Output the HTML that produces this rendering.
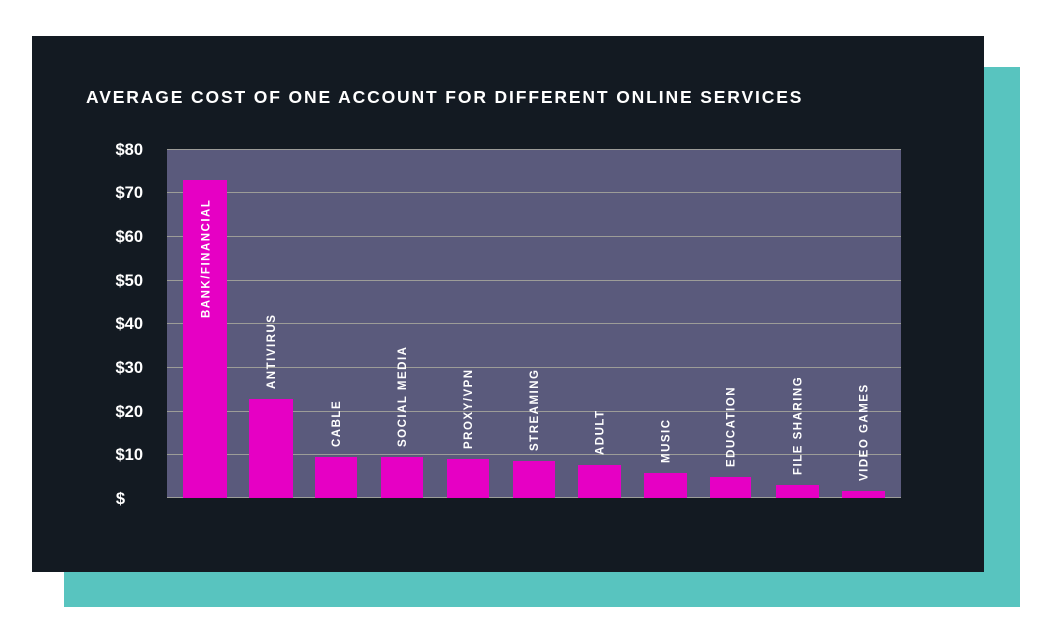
<!DOCTYPE html>
<html><head><style>html,body{margin:0;padding:0;background:#fff;}</style></head>
<body>
<svg width="1058" height="644" xmlns="http://www.w3.org/2000/svg" style="display:block">
<rect x="64" y="67" width="956" height="540" fill="#58c4bf"/>
<rect x="32" y="36" width="952" height="536" fill="#131a22"/>
<text x="86" y="103" fill="#fff" font-family="Liberation Sans, sans-serif" font-weight="bold" font-size="17.5" letter-spacing="1.86">AVERAGE COST OF ONE ACCOUNT FOR DIFFERENT ONLINE SERVICES</text>
<rect x="167" y="149" width="734" height="349" fill="#5a5a7c"/>
<g stroke="#9c9c98" stroke-width="1">
<line x1="167" x2="901" y1="149.5" y2="149.5"/>
<line x1="167" x2="901" y1="192.5" y2="192.5"/>
<line x1="167" x2="901" y1="236.5" y2="236.5"/>
<line x1="167" x2="901" y1="280.5" y2="280.5"/>
<line x1="167" x2="901" y1="323.5" y2="323.5"/>
<line x1="167" x2="901" y1="367.5" y2="367.5"/>
<line x1="167" x2="901" y1="411.5" y2="411.5"/>
<line x1="167" x2="901" y1="454.5" y2="454.5"/>
<line x1="167" x2="901" y1="497.5" y2="497.5"/>
</g>
<g fill="#fff" font-family="Liberation Sans, sans-serif" font-weight="bold" font-size="16.5" text-anchor="end">
<text x="143" y="155">$80</text><text x="143" y="198">$70</text><text x="143" y="242">$60</text>
<text x="143" y="286">$50</text><text x="143" y="329">$40</text><text x="143" y="373">$30</text>
<text x="143" y="417">$20</text><text x="143" y="460">$10</text><text x="125" y="504">$</text>
</g>
<g fill="#e600c4">
<rect x="183" y="180" width="44" height="318"/>
<rect x="249" y="399" width="44" height="99"/>
<rect x="315" y="457" width="42" height="41"/>
<rect x="381" y="457" width="42" height="41"/>
<rect x="447" y="459" width="42" height="39"/>
<rect x="513" y="461" width="42" height="37"/>
<rect x="578" y="465" width="43" height="33"/>
<rect x="644" y="473" width="43" height="25"/>
<rect x="710" y="477" width="41" height="21"/>
<rect x="776" y="485" width="43" height="13"/>
<rect x="842" y="491" width="43" height="7"/>
</g>
<g fill="#fff" font-family="Liberation Sans, sans-serif" font-weight="bold" font-size="11.5" letter-spacing="1.5">
<text transform="translate(209.5,318) rotate(-90)">BANK/FINANCIAL</text>
<text transform="translate(275,389) rotate(-90)">ANTIVIRUS</text>
<text transform="translate(340,447) rotate(-90)">CABLE</text>
<text transform="translate(406,447) rotate(-90)">SOCIAL MEDIA</text>
<text transform="translate(472,449) rotate(-90)">PROXY/VPN</text>
<text transform="translate(538,451) rotate(-90)">STREAMING</text>
<text transform="translate(603.5,455) rotate(-90)">ADULT</text>
<text transform="translate(669.5,463) rotate(-90)">MUSIC</text>
<text transform="translate(734.5,467) rotate(-90)">EDUCATION</text>
<text transform="translate(801.5,475) rotate(-90)">FILE SHARING</text>
<text transform="translate(867.5,481) rotate(-90)">VIDEO GAMES</text>
</g>
</svg>
</body></html>
